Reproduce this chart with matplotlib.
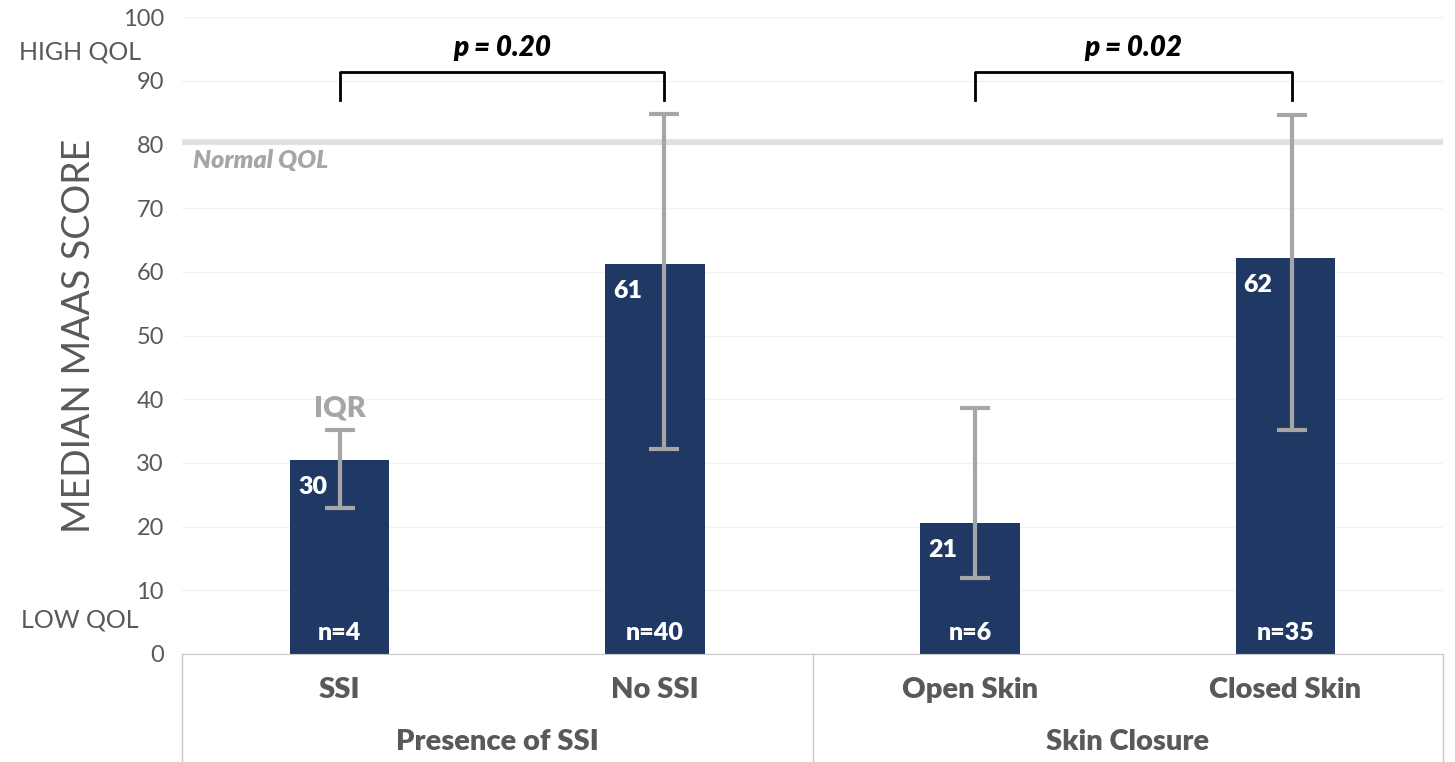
import matplotlib.pyplot as plt
import matplotlib.transforms as mtransforms

plt.rcParams['font.family'] = ['Lato', 'DejaVu Sans']

# data
groupes = ['SSI', 'No SSI', 'Open Skin', 'Closed Skin']
medianes = [30.4, 61.2, 20.6, 62.2]
iqr_bas = [22.9, 32.2, 11.9, 35.2]
iqr_haut = [35.2, 84.8, 38.6, 84.6]
etiquettes = ['30', '61', '21', '62']
effectifs = ['n=4', 'n=40', 'n=6', 'n=35']
familles = ['Presence of SSI', 'Skin Closure']
p_valeurs = ['p = 0.20', 'p = 0.02']
qol_normal = 80.3

bleu = '#203864'
gris = '#a6a6a6'
texte = '#595959'

fig = plt.figure(figsize=(14.55, 7.62), dpi=100)
ax = fig.add_axes([182/1455, 1-654/762, 1261/1455, 637/762])

x = list(range(len(groupes)))
largeur = 0.315
ax.bar(x, medianes, width=largeur, color=bleu, zorder=2)

# error bars sit a little right of centre in the original
decal = [0.0, 0.03, 0.015, 0.02]
xe = [x[i] + decal[i] for i in x]
for i in x:
    ax.errorbar(xe[i], medianes[i],
                yerr=[[medianes[i]-iqr_bas[i]], [iqr_haut[i]-medianes[i]]],
                fmt='none', ecolor=gris, elinewidth=3, capsize=11, capthick=3, zorder=3)
    ax.annotate(etiquettes[i], xy=(x[i]-largeur/2, medianes[i]), xytext=(8, -27),
                textcoords='offset pixels', color='white', fontsize=18, fontweight='heavy',
                ha='left', va='center', zorder=4)
    ax.text(x[i], 3.3, effectifs[i], color='white', fontsize=18, fontweight='heavy',
            ha='center', va='center', zorder=4)

ax.text(xe[0], 38.5, 'IQR', color=gris, fontsize=21, fontweight='heavy', ha='center', va='center')

# normal qol line
ax.axhline(qol_normal, color='#e0e0e0', lw=4, zorder=1)
ax.text(-0.465, 77.4, 'Normal QOL', color=gris, fontsize=18, fontweight='heavy',
        style='italic', ha='left', va='center')

# brackets with p values
for k in range(2):
    a, b = xe[2*k], xe[2*k+1]
    ax.plot([a, a, b, b], [87.0, 91.4, 91.4, 87.0], color='black', lw=2, zorder=3)
    ax.text((a+b)/2, 95.2, p_valeurs[k], fontsize=20, fontweight='heavy', style='italic',
            ha='center', va='center')

ax.set_xlim(-0.5, 3.5)
ax.set_ylim(0, 100)
ax.set_yticks(range(0, 101, 10))
ax.tick_params(axis='y', length=0, pad=13, labelsize=17, labelcolor=texte)
ax.set_xticks([])
ax.grid(axis='y', color='#f2f2f2', lw=1, zorder=0)
ax.set_axisbelow(True)
for s in ['top', 'right', 'left']:
    ax.spines[s].set_visible(False)
ax.spines['bottom'].set_color('#c8c8c8')

ax.set_ylabel('MEDIAN MAAS SCORE', fontsize=27, color=texte)
ax.yaxis.set_label_coords(-0.0674, 0.5)

fig.text(80/1455, 1-52/762, 'HIGH QOL', fontsize=18, color=texte, ha='center', va='center')
fig.text(80/1455, 1-620/762, 'LOW QOL', fontsize=18, color=texte, ha='center', va='center')

# two level category axis
tr = mtransforms.blended_transform_factory(ax.transData, ax.transAxes)
for xv in [-0.5, 1.5, 3.5]:
    ax.plot([xv, xv], [0, -0.2], color='#c8c8c8', lw=1, transform=tr, clip_on=False)
for i in x:
    ax.text(x[i], -0.0565, groupes[i], transform=tr, fontsize=21, fontweight='heavy',
            color=texte, ha='center', va='center')
for k in range(2):
    ax.text(0.5 + 2*k, -0.138, familles[k], transform=tr, fontsize=21, fontweight='heavy',
            color=texte, ha='center', va='center')

fig.savefig('out.png', dpi=100)
